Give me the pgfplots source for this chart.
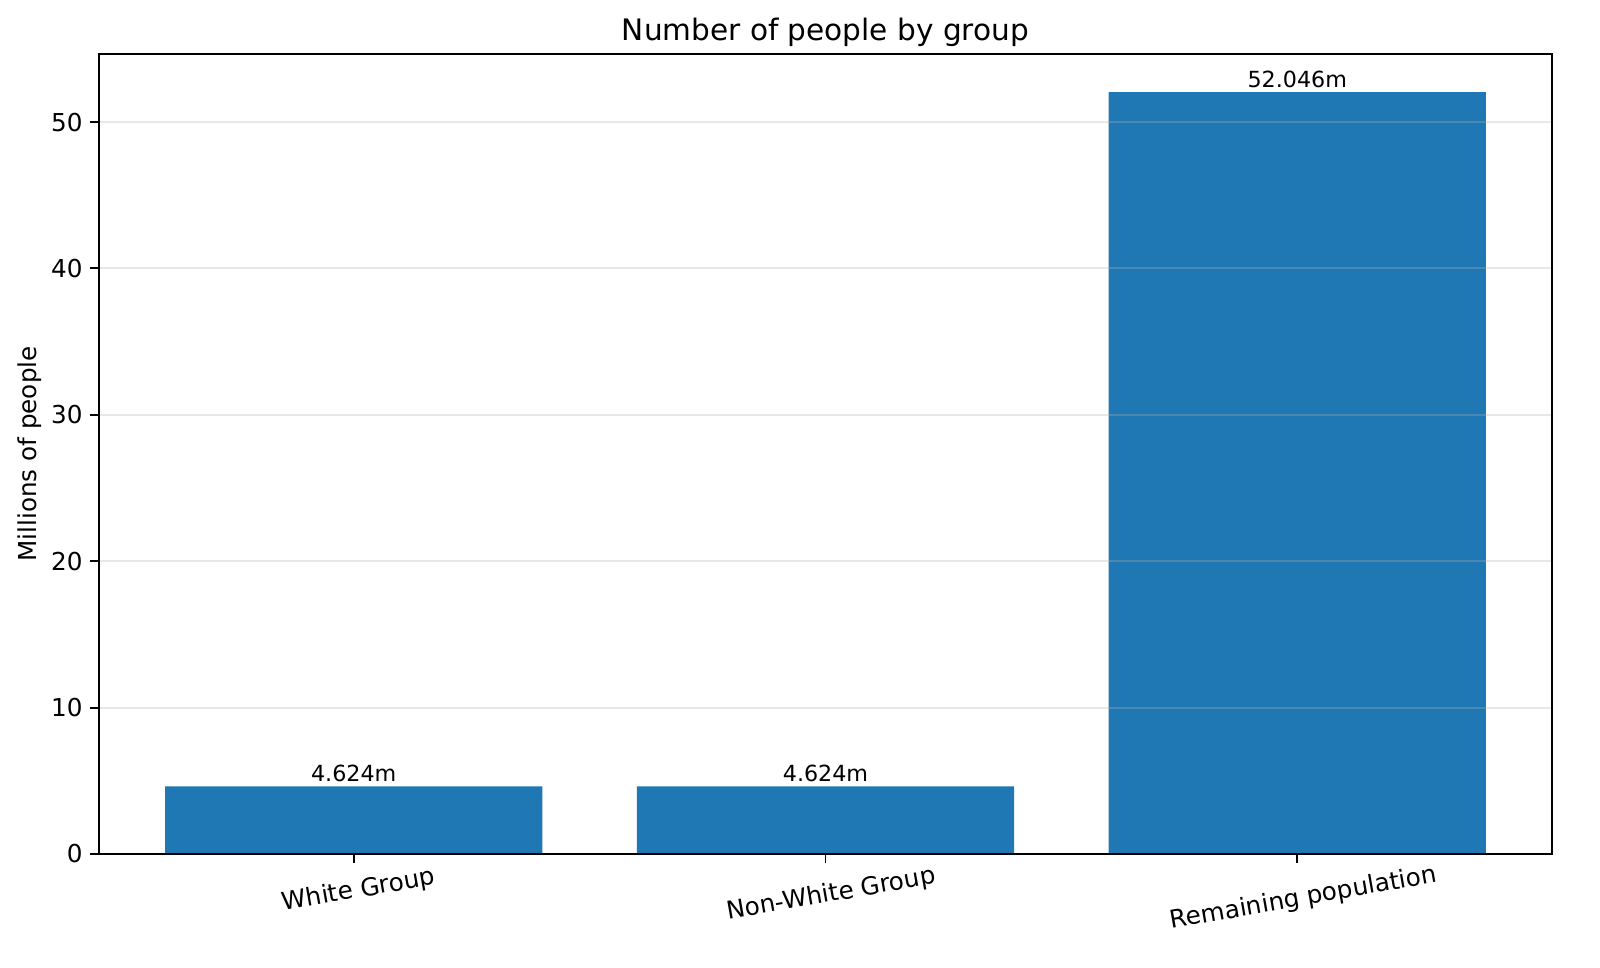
\documentclass[border=0pt]{standalone}
\usepackage{pgfplots}
\pgfplotsset{compat=1.18}
\usepackage{fontspec}
\setmainfont{DejaVu Sans}
\definecolor{barblue}{HTML}{1F77B4}
\definecolor{gridc}{HTML}{B0B0B0}
\begin{document}
\begin{tikzpicture}[x=0.45pt,y=0.45pt]
\begin{axis}[
  at={(0,0)}, anchor=south west,
  scale only axis,
  width=653.85pt, height=360pt,
  xmin=-0.54, xmax=2.54,
  ymin=0, ymax=54.65,
  ybar, bar width=0.8, bar shift=0pt,
  xtick={0,1,2},
  xticklabels={White Group,\rule{0pt}{10.25pt}Non-White Group,\rule{0pt}{12.05pt}Remaining population},
  ytick={0,10,20,30,40,50},
  tick pos=left, tick align=outside,
  major tick length=3.9pt,
  tick style={black, line width=0.89pt},
  axis line style={line width=0.89pt},
  ymajorgrids,
  grid style={gridc, opacity=0.3, line width=0.89pt},
  axis on top,
  /pgf/number format/assume math mode=true,
  ticklabel style={font=\fontsize{11.1}{13}\selectfont},
  xticklabel style={rotate=10, anchor=north, yshift=-3.9pt},
  ylabel={Millions of people},
  ylabel style={font=\fontsize{11.1}{13}\selectfont, yshift=-2.5pt},
  title={Number of people by group},
  title style={font=\fontsize{13.3}{15}\selectfont, yshift=-6.3pt},
  nodes near coords,
  point meta=explicit symbolic,
  every node near coord/.append style={font=\fontsize{10}{12}\selectfont, anchor=south, inner sep=0pt, yshift=1.8pt},
]
\addplot[fill=barblue, draw=none] coordinates {
  (0,4.624) [4.624m]
  (1,4.624) [4.624m]
  (2,52.046) [52.046m]
};
\end{axis}
\pgfresetboundingbox
\path[use as bounding box] (-99,-114) rectangle (1501,854);
\end{tikzpicture}
\end{document}
